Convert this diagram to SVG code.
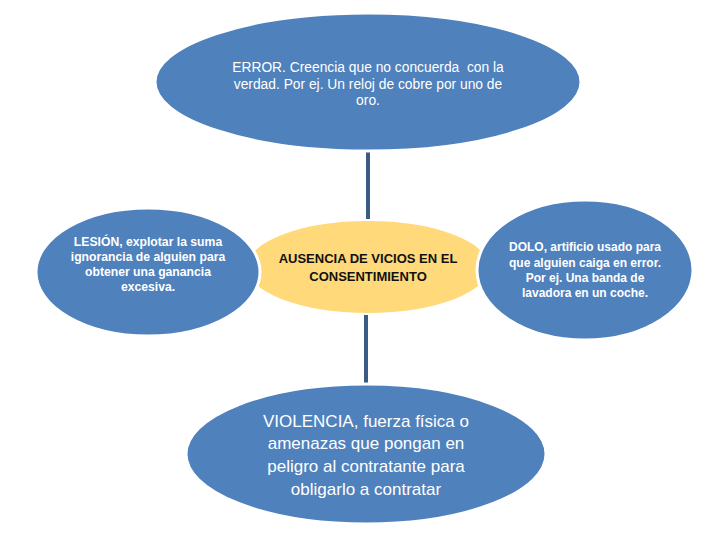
<svg xmlns="http://www.w3.org/2000/svg" width="720" height="540" viewBox="0 0 720 540">
<style>
.blue{fill:#4f81bd;stroke:#ffffff;stroke-width:3}
.yel{fill:#ffd97a;stroke:#ffffff;stroke-width:2}
.wt{fill:#ffffff;font-family:"Liberation Sans",Arial,sans-serif;text-anchor:middle}
.bt{fill:#111111;font-family:"Liberation Sans",Arial,sans-serif;text-anchor:middle;font-weight:bold}
.conn{stroke:#3b5b87;stroke-width:4;fill:none}
</style>
<rect width="720" height="540" fill="#ffffff"/>
<g id="connectors">
<line class="conn" x1="368" y1="150" x2="368" y2="222"/>
<line class="conn" x1="366" y1="312" x2="366" y2="384"/>
</g>
<g id="center">
<ellipse class="yel" cx="368" cy="267" rx="122" ry="47"/>
<text class="bt" font-size="13"><tspan x="368" y="263">AUSENCIA DE VICIOS EN EL</tspan><tspan x="368" y="281">CONSENTIMIENTO</tspan></text>
</g>
<g id="error">
<ellipse class="blue" cx="368" cy="82" rx="213" ry="69"/>
<text class="wt" font-size="13.8" xml:space="preserve"><tspan x="368" y="72">ERROR. Creencia que no concuerda  con la</tspan><tspan x="368" y="89">verdad. Por ej. Un reloj de cobre por uno de</tspan><tspan x="368" y="105">oro.</tspan></text>
</g>
<g id="lesion">
<ellipse class="blue" cx="148" cy="272" rx="112" ry="64"/>
<text class="wt" font-size="12.2" font-weight="bold"><tspan x="148" y="246">LESIÓN, explotar la suma</tspan><tspan x="148" y="261">ignorancia de alguien para</tspan><tspan x="148" y="276">obtener una ganancia</tspan><tspan x="148" y="291">excesiva.</tspan></text>
</g>
<g id="dolo">
<ellipse class="blue" cx="585" cy="270" rx="108" ry="70"/>
<text class="wt" font-size="12" font-weight="bold"><tspan x="585" y="251">DOLO, artificio usado para</tspan><tspan x="585" y="267">que alguien caiga en error.</tspan><tspan x="585" y="282">Por ej. Una banda de</tspan><tspan x="585" y="297">lavadora en un coche.</tspan></text>
</g>
<g id="violencia">
<ellipse class="blue" cx="366" cy="454" rx="180" ry="70"/>
<text class="wt" font-size="17"><tspan x="366" y="427">VIOLENCIA, fuerza física o</tspan><tspan x="366" y="449">amenazas que pongan en</tspan><tspan x="366" y="472">peligro al contratante para</tspan><tspan x="366" y="495">obligarlo a contratar</tspan></text>
</g>
</svg>
